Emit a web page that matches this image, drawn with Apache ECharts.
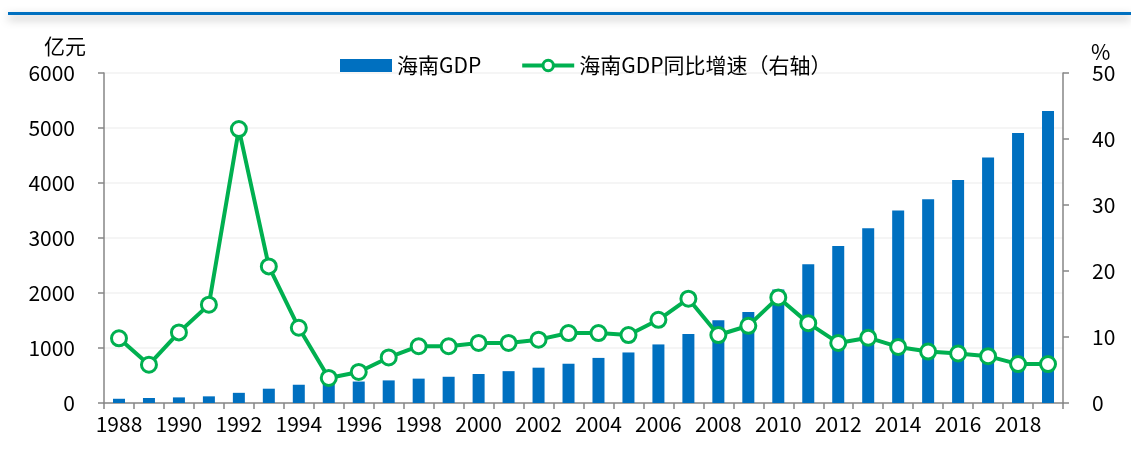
<!DOCTYPE html>
<html><head><meta charset="utf-8">
<script src="https://cdn.jsdelivr.net/npm/echarts@6/dist/echarts.min.js"></script>
<style>html,body{margin:0;padding:0;background:#fff}#c{width:1131px;height:461px}</style>
</head><body><div id="c"></div>
<script>
const years = ['1988','1989','1990','1991','1992','1993','1994','1995','1996','1997','1998','1999','2000','2001','2002','2003','2004','2005','2006','2007','2008','2009','2010','2011','2012','2013','2014','2015','2016','2017','2018','2019'];
const gdp = [77,91,102,121,185,260,332,364,390,411,443,477,527,579,642,714,820,919,1065,1254,1503,1654,2065,2523,2856,3178,3501,3703,4053,4463,4910,5309];
const growth = [9.8,5.8,10.7,14.9,41.5,20.7,11.4,3.8,4.7,6.9,8.6,8.6,9.1,9.1,9.6,10.6,10.6,10.3,12.6,15.8,10.3,11.7,16.0,12.1,9.1,9.9,8.5,7.8,7.5,7.1,5.9,5.9];
const FONT = "'Noto Sans CJK SC', 'Noto Sans', sans-serif";
const chart = echarts.init(document.getElementById('c'));
chart.setOption({
  animation: false,
  textStyle: {fontFamily: FONT, color: '#000'},
  graphic: [
    {type: 'rect', left: 8, top: 12, shape: {width: 1123, height: 3}, style: {fill: '#0070C0', shadowBlur: 10, shadowOffsetY: 4, shadowColor: 'rgba(0,0,0,0.35)'}, z: 10}
  ],
  legend: {
    left: 335, top: 50, itemGap: 39, itemWidth: 52, itemHeight: 13,
    textStyle: {fontFamily: FONT, fontSize: 21, color: '#000', padding: [0, 0, 0, 0]},
    data: [
      {name: '海南GDP', icon: 'rect'},
      {name: '海南GDP同比增速（右轴）', lineStyle: {color: '#00B050', width: 4}, itemStyle: {color: '#fff', borderColor: '#00B050', borderWidth: 3}}
    ]
  },
  grid: {left: 104, right: 68, top: 73, bottom: 58},
  xAxis: {
    type: 'category', data: years, boundaryGap: true,
    axisLine: {lineStyle: {color: '#868686', width: 1.5}},
    axisTick: {show: true, interval: 0, length: 6, lineStyle: {color: '#868686', width: 1.5}},
    axisLabel: {interval: 1, fontSize: 21, color: '#000', margin: 11, fontFamily: FONT}
  },
  yAxis: [
    {type: 'value', min: 0, max: 6000, interval: 1000, name: '亿元', nameLocation: 'end', nameGap: 16,
     nameTextStyle: {fontSize: 21, color: '#000', align: 'right', padding: [0, 18, 0, 0], fontFamily: FONT},
     axisLine: {show: true, lineStyle: {color: '#868686', width: 1.5}},
     axisTick: {show: true, length: 6, lineStyle: {color: '#868686', width: 1.5}},
     axisLabel: {fontSize: 21, color: '#000', margin: 29, fontFamily: FONT, formatter: v => String(v)},
     splitLine: {show: true, lineStyle: {color: '#f2f2f2', width: 1.5}}},
    {type: 'value', min: 0, max: 50, interval: 10, name: '%', nameLocation: 'end', nameGap: 12,
     nameTextStyle: {fontSize: 21, color: '#000', align: 'left', padding: [0, 0, -10, 28], fontFamily: FONT},
     axisLine: {show: true, lineStyle: {color: '#868686', width: 1.5}},
     axisTick: {show: true, length: 6, lineStyle: {color: '#868686', width: 1.5}},
     axisLabel: {fontSize: 21, color: '#000', margin: 29, fontFamily: FONT},
     splitLine: {show: false}}
  ],
  series: [
    {name: '海南GDP', type: 'bar', data: gdp, barWidth: 12, itemStyle: {color: '#0070C0'}, yAxisIndex: 0},
    {name: '海南GDP同比增速（右轴）', type: 'line', data: growth, yAxisIndex: 1, symbol: 'circle', symbolSize: 15,
     lineStyle: {color: '#00B050', width: 4}, itemStyle: {color: '#fff', borderColor: '#00B050', borderWidth: 3}, z: 5}
  ]
});
</script></body></html>
